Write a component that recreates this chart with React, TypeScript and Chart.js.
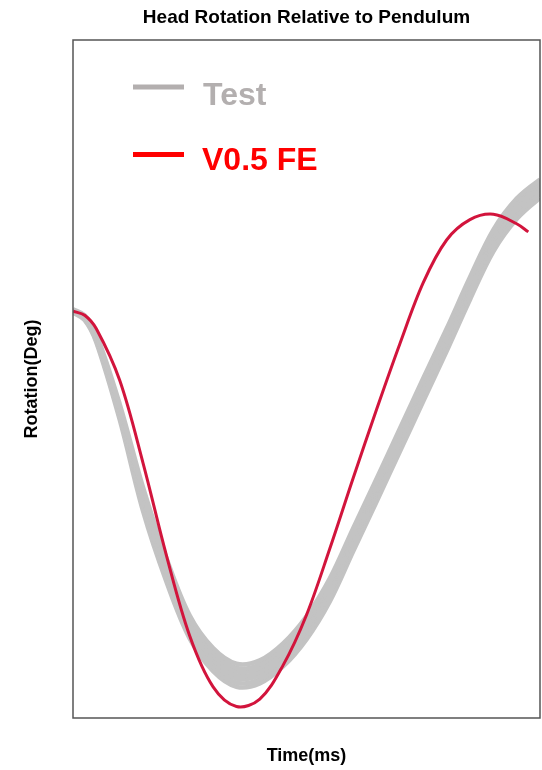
import React, { useEffect, useRef } from "react";
import { Chart, registerables } from "chart.js";

Chart.register(...registerables);

const TITLE = "Head Rotation Relative to Pendulum";
const X_LABEL = "Time(ms)";
const Y_LABEL = "Rotation(Deg)";

const testTimes = [0, 2.5, 5, 10, 15, 20, 25, 30, 35, 40, 45, 50, 55, 60, 65, 70, 75, 80, 85, 90, 95, 100, 105];
const test1 = [0.3, -0.6, -3.4, -13.7, -26.0, -36.4, -44.9, -49.7, -52.0, -51.5, -49.0, -45.0, -39.4, -32.0, -24.7, -17.3, -9.9, -2.6, 5.0, 12.0, 16.6, 19.4, 21.6];
const test2 = [0.2, -0.8, -3.7, -14.2, -26.7, -37.1, -45.5, -50.3, -52.6, -52.1, -49.6, -45.6, -40.0, -32.6, -25.3, -17.9, -10.5, -3.1, 4.5, 11.5, 16.2, 19.0, 21.2];
const test3 = [0.1, -0.9, -3.8, -14.5, -27.2, -37.6, -46.0, -50.8, -53.1, -52.6, -50.1, -46.1, -40.5, -33.1, -25.8, -18.4, -11.0, -3.6, 4.0, 11.1, 15.8, 18.7, 20.9];
const test4 = [0.0, -1.0, -4.0, -14.9, -27.8, -38.2, -46.6, -51.4, -53.7, -53.2, -50.7, -46.7, -41.1, -33.7, -26.4, -19.0, -11.6, -4.2, 3.4, 10.5, 15.2, 18.2, 20.5];
const test5 = [0.0, -1.1, -4.2, -15.3, -28.3, -38.7, -47.1, -51.9, -54.2, -53.7, -51.2, -47.2, -41.6, -34.2, -26.9, -19.5, -12.1, -4.7, 2.9, 10.0, 14.8, 17.8, 20.1];
const test6 = [-0.1, -1.2, -4.4, -15.6, -28.9, -39.3, -47.7, -52.5, -54.8, -54.3, -51.8, -47.8, -42.2, -34.8, -27.5, -20.1, -12.7, -5.3, 2.3, 9.4, 14.2, 17.3, 19.7];
const test7 = [-0.2, -1.3, -4.6, -16.0, -29.5, -39.9, -48.3, -53.1, -55.4, -54.9, -52.4, -48.4, -42.8, -35.4, -28.1, -20.7, -13.3, -5.9, 1.7, 8.8, 13.6, 16.7, 19.2];
const testSeries = [test1, test2, test3, test4, test5, test6, test7];

const feTimes = [0, 2.5, 5, 10, 15, 20, 25, 30, 35, 40, 45, 50, 55, 60, 65, 70, 75, 80, 85, 90, 95, 97.5];
const feValues = [0, -0.6, -2.6, -10.2, -22.4, -36.0, -47.9, -55.4, -58.3, -57.2, -52.2, -44.8, -35.0, -24.6, -14.5, -4.8, 4.2, 10.5, 13.5, 14.3, 12.9, 11.7];

const legendLabels = ["Test", "V0.5 FE"];

export default function App() {
  const ref = useRef<HTMLCanvasElement | null>(null);

  useEffect(() => {
    document.body.style.margin = "0";
    const canvas = ref.current;
    if (!canvas) return;

    const toPts = (xs: number[], ys: number[]) => xs.map((x, i) => ({ x, y: ys[i] }));

    const datasets: any[] = [
      {
        label: legendLabels[1],
        data: toPts(feTimes, feValues),
        borderColor: "#d2143c",
        borderWidth: 3,
        pointRadius: 0,
        tension: 0.35,
        fill: false,
        clip: 0,
      },
      ...testSeries.map((s) => ({
        label: legendLabels[0],
        data: toPts(testTimes, s),
        borderColor: "#c3c3c3",
        borderWidth: 4.5,
        pointRadius: 0,
        tension: 0.35,
        fill: false,
        clip: 0,
      })),
    ];

    const frame = {
      id: "frame",
      afterDraw(chart: any) {
        const { ctx, chartArea: a } = chart;
        ctx.save();
        ctx.strokeStyle = "#555555";
        ctx.lineWidth = 1.5;
        ctx.strokeRect(a.left, a.top, a.right - a.left, a.bottom - a.top);
        ctx.lineWidth = 5;
        ctx.lineCap = "butt";
        ctx.strokeStyle = "#b3afaf";
        ctx.beginPath();
        ctx.moveTo(133, 87);
        ctx.lineTo(184, 87);
        ctx.stroke();
        ctx.strokeStyle = "#ff0000";
        ctx.beginPath();
        ctx.moveTo(133, 154.5);
        ctx.lineTo(184, 154.5);
        ctx.stroke();
        ctx.font = "bold 32px 'Liberation Sans', Arial, sans-serif";
        ctx.textBaseline = "alphabetic";
        ctx.textAlign = "left";
        ctx.fillStyle = "#b3afaf";
        ctx.fillText(legendLabels[0], 203, 105);
        ctx.fillStyle = "#ff0000";
        ctx.fillText(legendLabels[1], 202, 170);
        ctx.restore();
      },
    };

    const chart = new Chart(canvas, {
      type: "line",
      data: { datasets },
      options: {
        animation: false,
        responsive: true,
        maintainAspectRatio: false,
        layout: { padding: { right: 2, top: 0, left: 0, bottom: 0 } },
        plugins: {
          legend: { display: false },
          tooltip: { enabled: false },
          title: {
            display: true,
            text: TITLE,
            fullSize: false,
            color: "#000000",
            font: { family: "'Liberation Sans', Arial, sans-serif", size: 19, weight: "bold" },
            padding: { top: 6, bottom: 11.2 },
          },
        },
        scales: {
          x: {
            type: "linear",
            min: 0,
            max: 100,
            grid: { display: false, drawTicks: false },
            border: { display: false },
            ticks: { display: false },
            title: {
              display: true,
              text: X_LABEL,
              color: "#000000",
              font: { family: "'Liberation Sans', Arial, sans-serif", size: 18, weight: "bold" },
              padding: { top: 27.2, bottom: 3.2 },
            },
          },
          y: {
            type: "linear",
            min: -60,
            max: 40,
            grid: { display: false, drawTicks: false },
            border: { display: false },
            ticks: { display: false },
            title: {
              display: true,
              text: Y_LABEL,
              color: "#000000",
              font: { family: "'Liberation Sans', Arial, sans-serif", size: 18, weight: "bold" },
              padding: { top: 21.2, bottom: 30.2 },
            },
          },
        },
      },
      plugins: [frame],
    });

    return () => chart.destroy();
  }, []);

  return (
    <div style={{ width: 542, height: 770, position: "relative" }}>
      <canvas ref={ref} />
    </div>
  );
}
